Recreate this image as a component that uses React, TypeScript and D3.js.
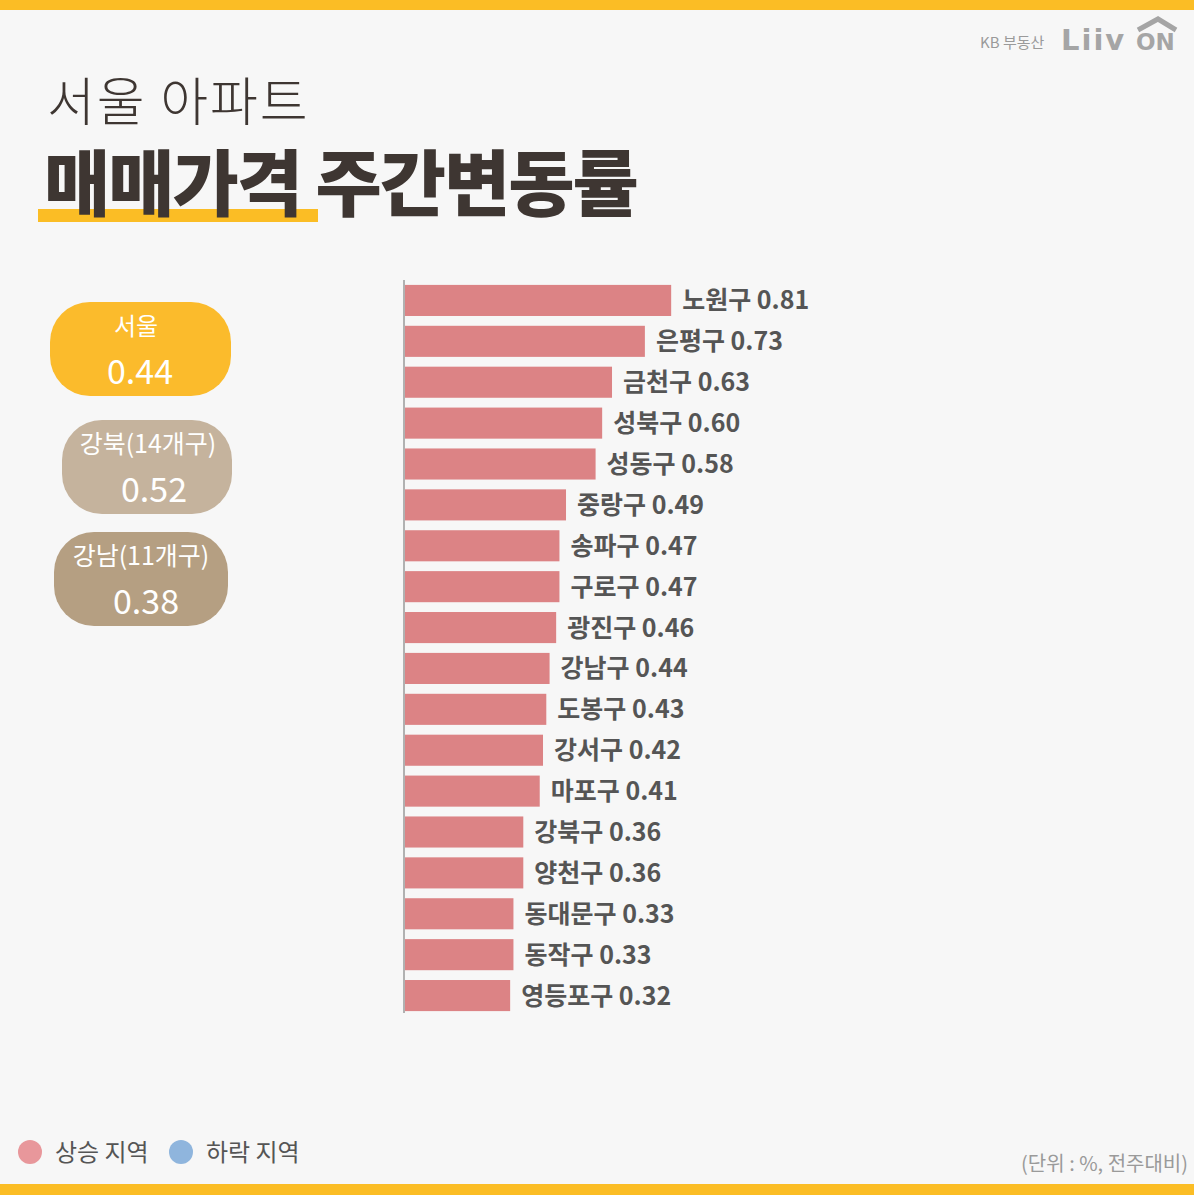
import React from "react";
import * as d3 from "d3";

const districts = ["노원구","은평구","금천구","성북구","성동구","중랑구","송파구","구로구","광진구","강남구","도봉구","강서구","마포구","강북구","양천구","동대문구","동작구","영등포구"];
const changes = [0.81,0.73,0.63,0.60,0.58,0.49,0.47,0.47,0.46,0.44,0.43,0.42,0.41,0.36,0.36,0.33,0.33,0.32];
const summaryLabels = ["서울","강북(14개구)","강남(11개구)"];
const summaryValues = [0.44,0.52,0.38];
const legendLabels = ["상승 지역","하락 지역"];

const W = 1194, H = 1195;
const FONT = "'Noto Sans CJK KR', 'Noto Sans', sans-serif";

export default function App() {
  const x = d3.scaleLinear().domain([0, 1]).range([405, 405 + 328.6]);
  const y = d3.scaleBand<string>().domain(districts).range([280, 1016]).paddingInner(0.24).paddingOuter(0.12);
  const pills = [
    { x: 50, y: 302, w: 181, h: 94, fill: "#fbbb2c", lx: 136, vx: 140 },
    { x: 62, y: 420, w: 170, h: 94, fill: "#c5b39d", lx: 148, vx: 154 },
    { x: 54, y: 532, w: 174, h: 94, fill: "#b59f82", lx: 141, vx: 146 },
  ];
  const legendColors = ["#e8979b", "#8fb5dd"];
  return (
    <svg width={W} height={H} style={{ display: "block", position: "fixed", left: 0, top: 0 }} fontFamily={FONT}>
      <rect width={W} height={H} fill="#f7f7f7" />
      <rect width={W} height={10} fill="#fbbd25" />
      <rect y={1184} width={W} height={11} fill="#fbbd25" />
      {/* logo */}
      <text x={980} y={48} fontSize={15} fill="#9a9a9a">KB 부동산</text>
      <text x={1061} y={50} fontSize={29} fontWeight={900} fill="#a5a5a5" fontFamily="'DejaVu Sans', sans-serif" letterSpacing={2}>Liiv</text>
      <text x={1136} y={50} fontSize={23} fontWeight={900} fill="#a5a5a5" fontFamily="'DejaVu Sans', sans-serif">ON</text>
      <path d="M1138,30 L1158,19 L1176,30" fill="none" stroke="#a5a5a5" strokeWidth={5} />
      {/* title */}
      <text x={47} y={121} fontSize={52} fontWeight={300} fill="#3e3632" letterSpacing={2}>서울 아파트</text>
      <rect x={38} y={209} width={280} height={13} fill="#fbbd25" />
      <text x={44} y={210} fontSize={72} fontWeight={900} fill="#3e3632" letterSpacing={-2}>매매가격 주간변동률</text>
      {/* summary pills */}
      {pills.map((p, i) => (
        <g key={i}>
          <rect x={p.x} y={p.y} width={p.w} height={p.h} rx={40} fill={p.fill} />
          <text x={p.lx} y={p.y + 33} textAnchor="middle" fontSize={i === 0 ? 24 : 25} fill="#fff">{summaryLabels[i]}</text>
          <text x={p.vx} y={p.y + 82} textAnchor="middle" fontSize={34} fill="#fff">{summaryValues[i].toFixed(2)}</text>
        </g>
      ))}
      {/* bars */}
      <line x1={404} x2={404} y1={280} y2={1013} stroke="#9a9a9a" strokeWidth={1.5} />
      {districts.map((d, i) => (
        <g key={d}>
          <rect x={x(0)} y={y(d)} width={x(changes[i]) - x(0)} height={y.bandwidth()} fill="#dc8385" />
          <text x={x(changes[i]) + 11} y={(y(d) as number) + y.bandwidth() / 2 + 9} fontSize={25} fontWeight={700} fill="#555">
            {d} {changes[i].toFixed(2)}
          </text>
        </g>
      ))}
      {/* legend */}
      {legendLabels.map((l, i) => (
        <g key={l}>
          <circle cx={30 + i * 151} cy={1152} r={12} fill={legendColors[i]} />
          <text x={55 + i * 151} y={1161} fontSize={24} fill="#555">{l}</text>
        </g>
      ))}
      <text x={1188} y={1171} textAnchor="end" fontSize={20} fill="#9a9a9a">(단위 : %, 전주대비)</text>
    </svg>
  );
}
